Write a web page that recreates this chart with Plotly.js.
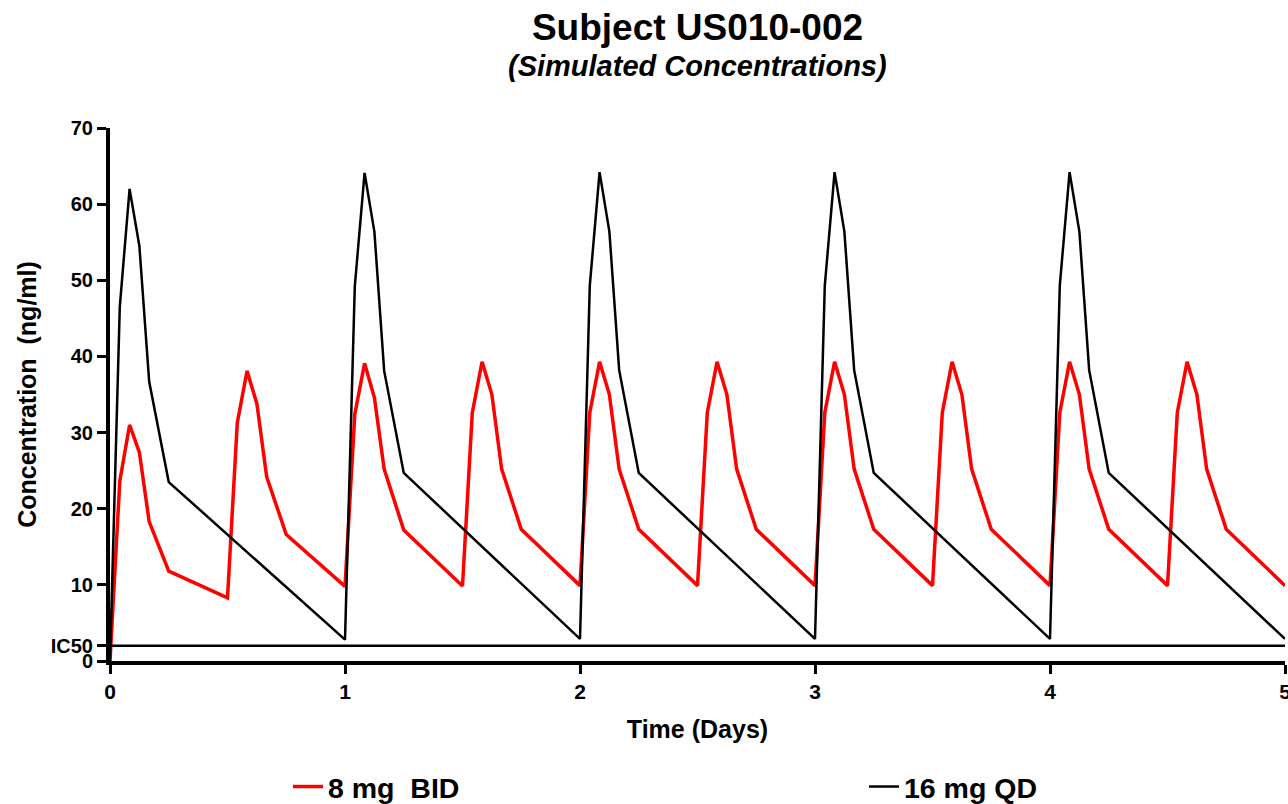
<!DOCTYPE html>
<html>
<head>
<meta charset="utf-8">
<script src="https://cdn.plot.ly/plotly-3.0.1.min.js"></script>
<style>html,body{margin:0;padding:0;background:#fff;}#chart{width:1288px;height:804px;}</style>
</head>
<body>
<div id="chart"></div>
<script>
// Time points (hours) and concentrations (ng/ml)
const bidHours = [0,1,2,3,4,6, 12,13,14,15,16,18, 24,25,26,27,28,30, 36,37,38,39,40,42,
  48,49,50,51,52,54, 60,61,62,63,64,66, 72,73,74,75,76,78, 84,85,86,87,88,90,
  96,97,98,99,100,102, 108,109,110,111,112,114, 120];
const bidConc = [0,23.6,31.0,27.4,18.3,11.8, 8.3,31.3,38.1,33.8,24.2,16.6,
  9.8,32.4,39.1,34.6,25.2,17.2, 9.85,32.6,39.3,35.0,25.2,17.3,
  9.9,32.6,39.3,35.0,25.2,17.3, 9.9,32.6,39.3,35.0,25.2,17.3,
  9.9,32.6,39.3,35.0,25.2,17.3, 9.9,32.6,39.3,35.0,25.2,17.3,
  9.9,32.6,39.3,35.0,25.2,17.3, 9.9,32.6,39.3,35.0,25.2,17.3, 9.9];
const qdHours = [0,1,2,3,4,6, 24,25,26,27,28,30, 48,49,50,51,52,54,
  72,73,74,75,76,78, 96,97,98,99,100,102, 120];
const qdConc = [0,46.5,62.0,54.5,36.7,23.5, 2.8,49.2,64.1,56.4,38.1,24.7,
  2.9,49.3,64.2,56.4,38.2,24.7, 2.9,49.3,64.2,56.4,38.2,24.7,
  2.9,49.3,64.2,56.4,38.2,24.7, 2.9];
const ic50 = 2.0;
const yTickVals = [0, ic50, 10, 20, 30, 40, 50, 60, 70];
const yTickText = ['0', 'IC50', '10', '20', '30', '40', '50', '60', '70'];
const xTickVals = [0, 1, 2, 3, 4, 5];
const seriesNames = ['8 mg\u00a0 BID', '16 mg QD'];
const titleText = 'Subject US010-002';
const subtitleText = '(Simulated Concentrations)';

const toDays = h => h.map(v => v / 24);
const FONT = 'Liberation Sans, Arial, Helvetica, sans-serif';

const traces = [
  {x: toDays(bidHours), y: bidConc, mode: 'lines', name: seriesNames[0], legend: 'legend',
   line: {color: '#ff0000', width: 3.5}},
  {x: toDays(qdHours), y: qdConc, mode: 'lines', name: seriesNames[1], legend: 'legend2',
   line: {color: '#000000', width: 2.5}}
];

const legendFont = {family: FONT, size: 28.5, color: '#000', weight: 'bold'};
const layout = {
  width: 1288, height: 804,
  margin: {l: 110, r: 3, t: 128, b: 143, autoexpand: false},
  paper_bgcolor: '#fff', plot_bgcolor: '#fff',
  font: {family: FONT, color: '#000'},
  title: {
    text: '<b>' + titleText + '</b>',
    font: {family: FONT, size: 37, color: '#000'},
    x: 0.5, xref: 'paper', xanchor: 'center', y: 1 - 27 / 804, yref: 'container', yanchor: 'middle'
  },
  annotations: [
    {text: '<b><i>' + subtitleText + '</i></b>', xref: 'paper', yref: 'paper',
     x: 0.5, xanchor: 'center', y: 1 + (128 - 66) / 533, yanchor: 'middle',
     showarrow: false, font: {family: FONT, size: 29, color: '#000'}}
  ],
  xaxis: {
    range: [0, 5], tickvals: xTickVals, ticktext: xTickVals.map(String),
    showgrid: false, zeroline: false, showline: true, linecolor: '#000', linewidth: 4,
    ticks: 'outside', ticklen: 9, tickwidth: 3, tickcolor: '#000',
    ticklabeloverflow: 'allow',
    tickfont: {family: FONT, size: 21, color: '#000', weight: 'bold'},
    title: {text: '<b>Time (Days)</b>', font: {family: FONT, size: 25, color: '#000'}, standoff: 19}
  },
  yaxis: {
    range: [0, 70], tickvals: yTickVals, ticktext: yTickText,
    showgrid: false, zeroline: false, showline: true, linecolor: '#000', linewidth: 4,
    ticks: 'outside', ticklen: 9, tickwidth: 3, tickcolor: '#000',
    ticklabeloverflow: 'allow',
    tickfont: {family: FONT, size: 20, color: '#000', weight: 'bold'},
    title: {text: '<b>Concentration\u00a0 (ng/ml)</b>', font: {family: FONT, size: 25, color: '#000'}, standoff: 8}
  },
  shapes: [
    {type: 'line', xref: 'paper', x0: 0, x1: 1, yref: 'y', y0: ic50, y1: ic50,
     line: {color: '#000', width: 2.5}}
  ],
  showlegend: true,
  legend: {
    orientation: 'h', x: (288 - 110) / 1175, xanchor: 'left', xref: 'paper',
    y: -(787 - 661) / 533, yanchor: 'middle',
    font: legendFont, bgcolor: 'rgba(0,0,0,0)', borderwidth: 0, itemwidth: 30
  },
  legend2: {
    orientation: 'h', x: (864 - 110) / 1175, xanchor: 'left', xref: 'paper',
    y: -(787 - 661) / 533, yanchor: 'middle',
    font: legendFont, bgcolor: 'rgba(0,0,0,0)', borderwidth: 0, itemwidth: 30
  }
};

Plotly.newPlot('chart', traces, layout, {displayModeBar: false, staticPlot: true});
</script>
</body>
</html>
